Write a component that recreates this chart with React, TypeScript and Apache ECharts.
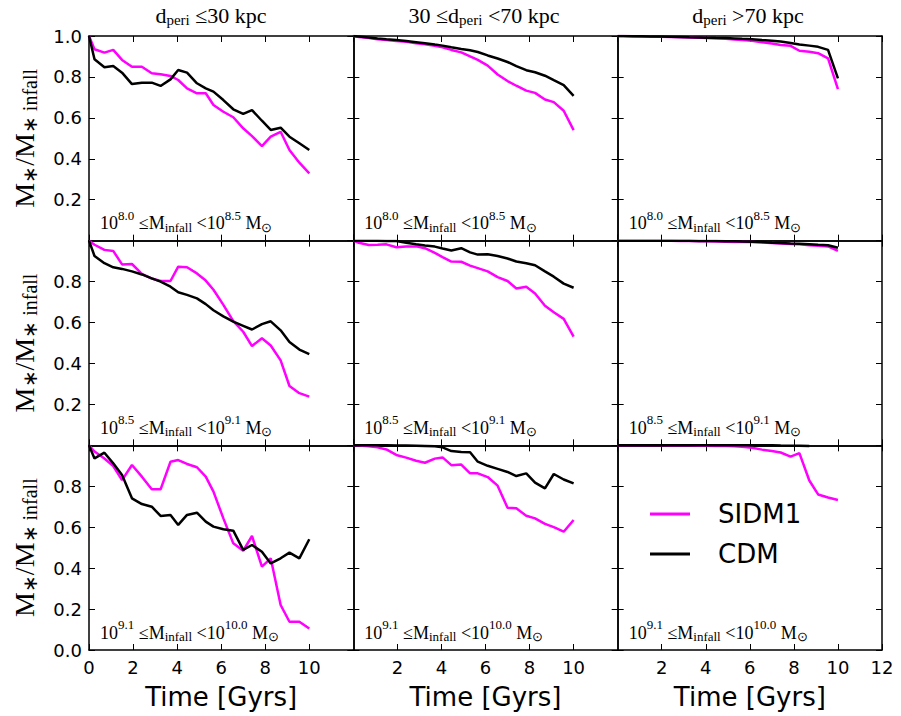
import React, { useEffect, useRef } from "react";
import * as echarts from "echarts";

// ---------------- DATA ----------------
const timeGyr = [0, 0.25, 0.7, 1.1, 1.5, 1.95, 2.4, 2.85, 3.25, 3.7, 4.05, 4.45, 4.9, 5.3, 5.65, 6.1, 6.55, 7.0, 7.4, 7.85, 8.25, 8.7, 9.1, 9.55, 10.0];

// row 0 : 10^8.0 <= M_infall < 10^8.5
const sidm_r0c0 = [1.0, 0.935, 0.919, 0.932, 0.883, 0.85, 0.85, 0.818, 0.813, 0.805, 0.785, 0.744, 0.72, 0.72, 0.663, 0.63, 0.603, 0.549, 0.511, 0.462, 0.508, 0.532, 0.443, 0.381, 0.329];
const cdm_r0c0 = [1.0, 0.886, 0.847, 0.853, 0.821, 0.765, 0.772, 0.772, 0.756, 0.788, 0.834, 0.821, 0.769, 0.744, 0.728, 0.687, 0.642, 0.619, 0.638, 0.586, 0.541, 0.552, 0.508, 0.476, 0.443];
const sidm_r0c1 = [1.0, 0.995, 0.99, 0.984, 0.98, 0.976, 0.972, 0.965, 0.96, 0.952, 0.945, 0.932, 0.92, 0.9, 0.883, 0.855, 0.812, 0.78, 0.757, 0.733, 0.722, 0.69, 0.677, 0.635, 0.54];
const cdm_r0c1 = [1.0, 0.998, 0.993, 0.988, 0.984, 0.98, 0.975, 0.97, 0.965, 0.958, 0.953, 0.945, 0.937, 0.93, 0.922, 0.905, 0.89, 0.873, 0.853, 0.833, 0.823, 0.806, 0.784, 0.76, 0.707];
const sidm_r0c2 = [1.0, 1.0, 0.999, 0.998, 0.997, 0.996, 0.995, 0.994, 0.993, 0.991, 0.99, 0.988, 0.986, 0.983, 0.98, 0.977, 0.97, 0.963, 0.956, 0.952, 0.928, 0.923, 0.916, 0.891, 0.74];
const cdm_r0c2 = [1.0, 1.0, 0.999, 0.999, 0.998, 0.997, 0.996, 0.995, 0.994, 0.993, 0.992, 0.991, 0.99, 0.988, 0.986, 0.984, 0.98, 0.977, 0.973, 0.966, 0.958, 0.953, 0.947, 0.932, 0.793];

// row 1 : 10^8.5 <= M_infall < 10^9.1
const sidm_r1c0 = [1.0, 0.98, 0.955, 0.95, 0.884, 0.886, 0.838, 0.815, 0.803, 0.803, 0.873, 0.87, 0.84, 0.805, 0.76, 0.686, 0.607, 0.555, 0.485, 0.523, 0.488, 0.415, 0.29, 0.255, 0.238];
const cdm_r1c0 = [1.0, 0.925, 0.89, 0.87, 0.862, 0.85, 0.835, 0.816, 0.8, 0.775, 0.748, 0.735, 0.718, 0.69, 0.66, 0.63, 0.604, 0.584, 0.566, 0.592, 0.606, 0.562, 0.505, 0.468, 0.446];
const sidm_r1c1 = [1.0, 0.99, 0.979, 0.98, 0.982, 0.968, 0.971, 0.972, 0.963, 0.94, 0.92, 0.898, 0.897, 0.878, 0.866, 0.85, 0.822, 0.803, 0.766, 0.775, 0.742, 0.682, 0.65, 0.618, 0.531];
const cdm_r1c1 = [1.0, 1.0, 0.999, 0.999, 0.998, 0.998, 0.99, 0.982, 0.976, 0.971, 0.962, 0.952, 0.963, 0.943, 0.932, 0.934, 0.925, 0.913, 0.898, 0.89, 0.88, 0.85, 0.824, 0.79, 0.77];
const sidm_r1c2 = [1.0, 1.0, 1.0, 1.0, 0.999, 0.999, 0.999, 0.998, 0.998, 0.997, 0.997, 0.996, 0.995, 0.994, 0.994, 0.993, 0.991, 0.988, 0.986, 0.984, 0.982, 0.978, 0.975, 0.972, 0.95];
const cdm_r1c2 = [1.0, 1.0, 1.0, 1.0, 1.0, 1.0, 0.999, 0.999, 0.999, 0.998, 0.998, 0.998, 0.997, 0.997, 0.996, 0.995, 0.993, 0.99, 0.988, 0.986, 0.985, 0.983, 0.98, 0.978, 0.965];

// row 2 : 10^9.1 <= M_infall < 10^10.0
const sidm_r2c0 = [1.0, 0.97, 0.936, 0.899, 0.83, 0.904, 0.847, 0.785, 0.785, 0.92, 0.928, 0.909, 0.893, 0.847, 0.774, 0.643, 0.521, 0.485, 0.557, 0.407, 0.448, 0.22, 0.138, 0.138, 0.105];
const cdm_r2c0 = [1.0, 0.936, 0.964, 0.912, 0.855, 0.741, 0.713, 0.7, 0.655, 0.66, 0.611, 0.66, 0.671, 0.627, 0.603, 0.59, 0.583, 0.489, 0.513, 0.48, 0.423, 0.448, 0.476, 0.448, 0.541];
const sidm_r2c1 = [1.0, 0.999, 0.995, 0.99, 0.98, 0.953, 0.94, 0.925, 0.915, 0.935, 0.941, 0.903, 0.906, 0.863, 0.863, 0.845, 0.803, 0.695, 0.692, 0.656, 0.643, 0.616, 0.6, 0.578, 0.635];
const cdm_r2c1 = [1.0, 1.0, 1.0, 1.0, 1.0, 0.999, 0.999, 0.998, 0.997, 0.995, 0.99, 0.972, 0.967, 0.966, 0.92, 0.9, 0.885, 0.87, 0.85, 0.863, 0.818, 0.79, 0.86, 0.833, 0.814];
const sidm_r2c2 = [1.0, 1.0, 1.0, 1.0, 1.0, 1.0, 0.999, 0.999, 0.999, 0.998, 0.998, 0.997, 0.997, 0.996, 0.993, 0.988, 0.979, 0.972, 0.965, 0.945, 0.962, 0.828, 0.76, 0.745, 0.733];
const cdm_r2c2 = [1.0, 1.0, 1.0, 1.0, 1.0, 1.0, 1.0, 1.0, 1.0, 1.0, 1.0, 1.0, 1.0, 1.0, 1.0, 1.0, 1.0, 1.0, 0.999, 0.998, 0.998, 0.997];

const sidmPanels = [sidm_r0c0, sidm_r0c1, sidm_r0c2, sidm_r1c0, sidm_r1c1, sidm_r1c2, sidm_r2c0, sidm_r2c1, sidm_r2c2];
const cdmPanels = [cdm_r0c0, cdm_r0c1, cdm_r0c2, cdm_r1c0, cdm_r1c1, cdm_r1c2, cdm_r2c0, cdm_r2c1, cdm_r2c2];

const seriesNames = ["SIDM1", "CDM"];
const columnTitles = ["d{sub|peri} ≤30 kpc", "30 ≤d{sub|peri} <70 kpc", "d{sub|peri} >70 kpc"];
const massBinLabels = [
  "10{sup|8.0} ≤M{sub|infall} <10{sup|8.5} M{sub|⊙}",
  "10{sup|8.5} ≤M{sub|infall} <10{sup|9.1} M{sub|⊙}",
  "10{sup|9.1} ≤M{sub|infall} <10{sup|10.0} M{sub|⊙}",
];
const xAxisTitle = "Time [Gyrs]";
const yAxisTitle = "M{ysub|∗}/M{ysub|∗ infall}";

// ---------------- STYLE / LAYOUT ----------------
const SANS = "DejaVu Sans";
const SERIF = "Liberation Serif";
const MAGENTA = "#ff00ff";
const BLACK = "#000000";
const L0 = 89;
const T0 = 36;
const PW = (882 - 89) / 3;
const PH = (650 - 36) / 3;
const titleCenters = [211, 484, 748];

const zip = (xs: number[], ys: number[]) => ys.map((y, i) => [xs[i], y]);

export default function App() {
  const ref = useRef<HTMLDivElement>(null);
  useEffect(() => {
    if (!ref.current) return;
    const chart = echarts.init(ref.current, null, { renderer: "svg" });

    const grids: any[] = [];
    const xAxes: any[] = [];
    const yAxes: any[] = [];
    const series: any[] = [];
    const graphics: any[] = [];

    const axisLine = { show: true, onZero: false, lineStyle: { color: BLACK, width: 1.5 } };
    const axisTick = { show: true, inside: true, length: 6, lineStyle: { color: BLACK, width: 1 } };

    for (let r = 0; r < 3; r++) {
      for (let c = 0; c < 3; c++) {
        const i = r * 3 + c;
        grids.push({ left: L0 + c * PW, top: T0 + r * PH, width: PW, height: PH });
        xAxes.push({
          type: "value", gridIndex: i, position: "bottom", min: 0, max: 12, interval: 2,
          axisLine, axisTick, splitLine: { show: false },
          axisLabel: {
            show: r === 2, margin: 8, fontSize: 18, fontFamily: SANS, color: BLACK,
            showMinLabel: c === 0, showMaxLabel: c === 2,
          },
          name: r === 2 ? xAxisTitle : "",
          nameLocation: "middle", nameGap: 34,
          nameTextStyle: { fontSize: 26, fontFamily: SANS, color: BLACK },
        });
        xAxes.push({
          type: "value", gridIndex: i, position: "top", min: 0, max: 12, interval: 2,
          axisLine, axisTick, splitLine: { show: false }, axisLabel: { show: false },
        });
        yAxes.push({
          type: "value", gridIndex: i, position: "left", min: 0, max: 1, interval: 0.2,
          axisLine, axisTick, splitLine: { show: false },
          axisLabel: {
            show: c === 0, margin: 7, fontSize: 18, fontFamily: SANS, color: BLACK,
            showMinLabel: r === 2, showMaxLabel: r === 0,
            formatter: (v: number) => v.toFixed(1),
          },
        });
        yAxes.push({
          type: "value", gridIndex: i, position: "right", min: 0, max: 1, interval: 0.2,
          axisLine, axisTick, splitLine: { show: false }, axisLabel: { show: false },
        });

        series.push({
          type: "line", name: seriesNames[0], xAxisIndex: 2 * i, yAxisIndex: 2 * i,
          data: zip(timeGyr, sidmPanels[i]), symbol: "none", showSymbol: false,
          lineStyle: { color: MAGENTA, width: 2.5 }, itemStyle: { color: MAGENTA },
        });
        series.push({
          type: "line", name: seriesNames[1], xAxisIndex: 2 * i, yAxisIndex: 2 * i,
          data: zip(timeGyr, cdmPanels[i]), symbol: "none", showSymbol: false,
          lineStyle: { color: BLACK, width: 2.5 }, itemStyle: { color: BLACK },
        });

        graphics.push({
          type: "text",
          x: L0 + c * PW + 11,
          y: T0 + r * PH + PH - 17.5,
          z: 100,
          style: {
            text: massBinLabels[r],
            fontSize: 18, fontFamily: SERIF, fill: BLACK,
            align: "left", verticalAlign: "middle",
            rich: {
              sup: { fontSize: 13, fontFamily: SERIF, fill: BLACK, padding: [0, 0, 16, 0] },
              sub: { fontSize: 13, fontFamily: SERIF, fill: BLACK, padding: [8, 0, 0, 0] },
            },
          },
        });
      }
      graphics.push({
        type: "text",
        x: 24,
        y: T0 + r * PH + PH / 2,
        rotation: Math.PI / 2,
        style: {
          text: yAxisTitle,
          fontSize: 28, fontFamily: SERIF, fill: BLACK,
          align: "center", verticalAlign: "middle",
          rich: { ysub: { fontSize: 20, fontFamily: SERIF, fill: BLACK, padding: [12, 0, 0, 0] } },
        },
      });
    }
    for (let c = 0; c < 3; c++) {
      graphics.push({
        type: "text",
        x: titleCenters[c],
        y: 15,
        style: {
          text: columnTitles[c],
          fontSize: 22, fontFamily: SERIF, fill: BLACK,
          align: "center", verticalAlign: "middle",
          rich: { sub: { fontSize: 15, fontFamily: SERIF, fill: BLACK, padding: [10, 0, 0, 0] } },
        },
      });
    }

    chart.setOption({
      animation: false,
      backgroundColor: "#ffffff",
      grid: grids,
      xAxis: xAxes,
      yAxis: yAxes,
      series,
      legend: {
        show: true, left: 650, top: 501, orient: "vertical", padding: 0,
        itemGap: 14, itemWidth: 40, itemHeight: 3,
        data: [{ name: seriesNames[0], icon: "rect" }, { name: seriesNames[1], icon: "rect" }],
        textStyle: { fontSize: 26, fontFamily: SANS, color: BLACK, padding: [0, 0, 0, 23], lineHeight: 26 },
      },
      graphic: graphics,
    });
    return () => chart.dispose();
  }, []);
  return <div ref={ref} style={{ position: "absolute", left: 0, top: 0, width: 901, height: 716 }} />;
}
